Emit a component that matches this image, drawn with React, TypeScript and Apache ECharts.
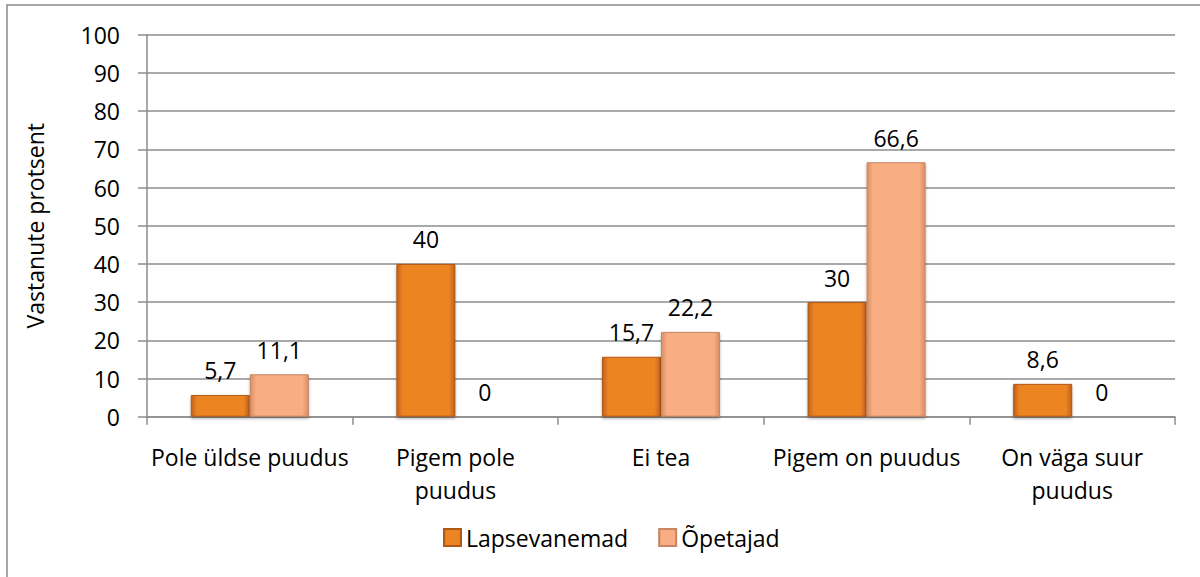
import React, { useEffect, useRef } from "react";
import * as echarts from "echarts";

const categories = [
  "Pole üldse puudus",
  "Pigem pole\npuudus",
  "Ei tea",
  "Pigem on puudus",
  "On väga suur\npuudus",
];
const lapsevanemad = [5.7, 40, 15.7, 30, 8.6];
const opetajad = [11.1, 0, 22.2, 66.6, 0];
const seriesNames = ["Lapsevanemad", "Õpetajad"];
const yTicks = { min: 0, max: 100, interval: 10 };

const FONT = "'Open Sans', sans-serif";
const FS = 23;

function grad(edge: string, mid: string) {
  return new echarts.graphic.LinearGradient(0, 0, 1, 0, [
    { offset: 0, color: edge },
    { offset: 0.1, color: mid },
    { offset: 0.9, color: mid },
    { offset: 1, color: edge },
  ]);
}

export default function App() {
  const ref = useRef<HTMLDivElement>(null);
  useEffect(() => {
    if (!ref.current) return;
    const chart = echarts.init(ref.current, undefined, { renderer: "svg" });
    const labelCfg = {
      show: true,
      position: "top" as const,
      distance: 13,
      color: "#000",
      fontFamily: FONT,
      fontSize: FS,
      formatter: (p: any) => String(p.value).replace(".", ","),
    };
    chart.setOption({
      animation: false,
      backgroundColor: "#fff",
      textStyle: { fontFamily: FONT },
      graphic: [
        {
          type: "rect",
          shape: { x: 7, y: 5, width: 1220, height: 600 },
          style: { fill: "none", stroke: "#8a8a8a", lineWidth: 1.5 },
          silent: true,
          z: -1,
        },
      ],
      grid: { left: 147, right: 25, top: 34.7, bottom: 160.3 },
      legend: {
        data: seriesNames,
        bottom: 23,
        left: 438,
        itemWidth: 17,
        itemHeight: 17,
        itemGap: 30,
        icon: "rect",
        textStyle: { fontFamily: FONT, fontSize: FS, color: "#000" },
      },
      xAxis: {
        type: "category",
        data: categories,
        boundaryGap: true,
        axisLine: { lineStyle: { color: "#8c8c8c", width: 1.5 } },
        axisTick: { show: true, length: 8, alignWithLabel: false, lineStyle: { color: "#8c8c8c", width: 1.5 } },
        axisLabel: {
          interval: 0,
          margin: 24,
          color: "#000",
          fontFamily: FONT,
          fontSize: FS,
          lineHeight: 33,
        },
      },
      yAxis: {
        type: "value",
        min: yTicks.min,
        max: yTicks.max,
        interval: yTicks.interval,
        name: "Vastanute protsent",
        nameLocation: "middle",
        nameGap: 101,
        nameTextStyle: { fontFamily: FONT, fontSize: FS, color: "#000" },
        axisLine: { show: true, lineStyle: { color: "#8c8c8c", width: 1.5 } },
        axisTick: { show: true, length: 9, lineStyle: { color: "#8c8c8c", width: 1.5 } },
        axisLabel: { margin: 27, color: "#000", fontFamily: FONT, fontSize: FS },
        splitLine: { show: true, lineStyle: { color: "#8c8c8c", width: 1.5 } },
      },
      series: [
        {
          name: seriesNames[0],
          type: "bar",
          data: lapsevanemad,
          barGap: "0%",
          barCategoryGap: "42.6%",
          itemStyle: {
            color: grad("#c2601a", "#ec8424"),
            borderColor: "#b05816",
            borderWidth: 1,
            shadowColor: "rgba(0,0,0,0.3)",
            shadowBlur: 3,
            shadowOffsetY: 2,
          },
          label: labelCfg,
        },
        {
          name: seriesNames[1],
          type: "bar",
          data: opetajad,
          barGap: "0%",
          barCategoryGap: "42.6%",
          itemStyle: {
            color: grad("#d98f66", "#f8ad82"),
            borderColor: "#c98462",
            borderWidth: 1,
            shadowColor: "rgba(0,0,0,0.3)",
            shadowBlur: 3,
            shadowOffsetY: 2,
          },
          label: labelCfg,
        },
      ],
    });
    return () => chart.dispose();
  }, []);
  return (
    <div
      ref={ref}
      style={{ position: "fixed", left: 0, top: 0, width: 1200, height: 577 }}
    />
  );
}
